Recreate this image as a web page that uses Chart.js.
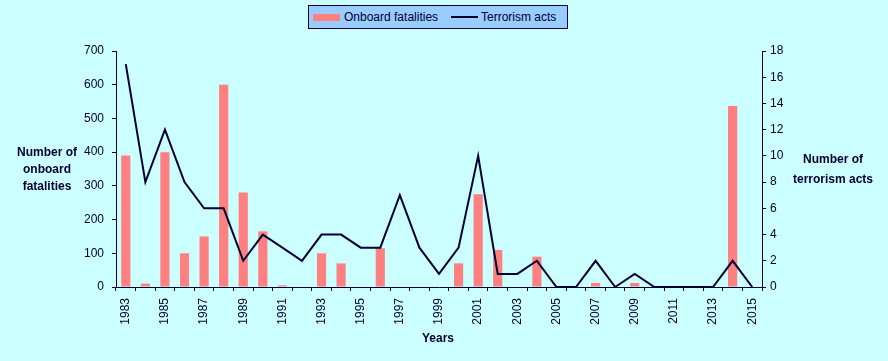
<!DOCTYPE html>
<html lang="en">

<head>
    <meta charset="UTF-8">
    <title>Onboard fatalities and terrorism acts</title>

    <!-- ChartJs CDN -->
    <script src="https://cdn.jsdelivr.net/npm/chart.js"></script>

    <style>
        body {
            margin: 0;
            background: #CCFFFF;
        }

        .wrap {
            position: relative;
            width: 888px;
            height: 361px;
            font-family: "Liberation Sans", Arial, sans-serif;
            color: #000033;
        }

        .legend {
            position: absolute;
            left: 308px;
            top: 5px;
            width: 258px;
            height: 22px;
            background: #99CCFF;
            border: 1px solid #000033;
            font-size: 12px;
        }

        .legend span {
            position: absolute;
        }

        .legend .box {
            left: 4px;
            top: 8px;
            width: 27px;
            height: 7px;
            background: #FF8080;
        }

        .legend .ln {
            left: 142px;
            top: 10px;
            width: 27px;
            height: 2px;
            background: #000033;
        }
    </style>

    <script type="text/javascript">
        // data
        var years = [];
        for (var y = 1983; y <= 2015; y++) {
            years.push(String(y));
        }
        var fatalities = [390, 10, 400, 100, 150, 600, 280, 165, 5, 0, 100, 70, 0, 115, 0, 0, 0,
            70, 275, 110, 0, 90, 0, 0, 12, 0, 12, 0, 0, 0, 0, 537, 0];
        var terrorActs = [17, 8, 12, 8, 6, 6, 2, 4, 3, 2, 4, 4, 3, 3, 7, 3, 1,
            3, 10, 1, 1, 2, 0, 0, 2, 0, 1, 0, 0, 0, 0, 2, 0];

        var ink = "#000033";
        var tickFont = { family: "Liberation Sans, Arial", size: 12 };

        // axis titles are drawn horizontally beside the axes
        var titlesPlugin = {
            id: "titles",
            afterDraw: function (chart) {
                var ctx = chart.ctx;
                ctx.save();
                ctx.fillStyle = ink;
                ctx.font = "bold 12px 'Liberation Sans', Arial";
                ctx.textAlign = "center";
                ctx.textBaseline = "middle";
                ctx.fillText("Number of", 47, 153);
                ctx.fillText("onboard", 47, 170);
                ctx.fillText("fatalities", 47, 187);
                ctx.fillText("Number of", 833, 160);
                ctx.fillText("terrorism acts", 833, 180);
                ctx.fillText("Years", 438, 339);
                ctx.restore();
            }
        };

        window.addEventListener("load", function () {
            var canvas = document.querySelector("#chart");

            new Chart(canvas, {
                type: "bar",
                data: {
                    labels: years,
                    datasets: [
                        {
                            type: "line",
                            label: "Terrorism acts",
                            data: terrorActs,
                            yAxisID: "y2",
                            borderColor: ink,
                            borderWidth: 2,
                            pointRadius: 0,
                            tension: 0,
                            clip: false,
                            order: 0
                        },
                        {
                            label: "Onboard fatalities",
                            data: fatalities,
                            yAxisID: "y",
                            backgroundColor: "#FF8080",
                            categoryPercentage: 1,
                            barPercentage: 0.47,
                            order: 1
                        }
                    ]
                },
                options: {
                    responsive: false,
                    animation: false,
                    layout: { padding: { top: 51, left: 0, right: 0, bottom: 0 } },
                    plugins: {
                        legend: { display: false },
                        tooltip: { enabled: false }
                    },
                    scales: {
                        x: {
                            afterFit: function (scale) { scale.height = 74; },
                            grid: { drawOnChartArea: false, offset: true, tickLength: 4, color: ink },
                            border: { color: ink, width: 1 },
                            ticks: {
                                autoSkip: false,
                                minRotation: 90,
                                maxRotation: 90,
                                padding: 7,
                                color: ink,
                                font: tickFont,
                                callback: function (v, i) {
                                    return i % 2 === 0 ? years[i] : "";
                                }
                            }
                        },
                        y: {
                            position: "left",
                            min: 0,
                            max: 700,
                            afterFit: function (scale) { scale.width = 116; },
                            grid: { drawOnChartArea: false, tickLength: 4, color: ink },
                            border: { color: ink, width: 1 },
                            ticks: { stepSize: 100, padding: 8, color: ink, font: tickFont }
                        },
                        y2: {
                            position: "right",
                            min: 0,
                            max: 18,
                            afterFit: function (scale) { scale.width = 126; },
                            grid: { drawOnChartArea: false, tickLength: 4, color: ink },
                            border: { color: ink, width: 1 },
                            ticks: { stepSize: 2, padding: 4, color: ink, font: tickFont }
                        }
                    }
                },
                plugins: [titlesPlugin]
            });
        });
    </script>
</head>

<body>
    <div class="wrap">
        <canvas id="chart" width="888" height="361"></canvas>
        <div class="legend">
            <span class="box"></span>
            <span style="left:35px; top:4px;">Onboard fatalities</span>
            <span class="ln"></span>
            <span style="left:172px; top:4px;">Terrorism acts</span>
        </div>
    </div>
</body>

</html>
